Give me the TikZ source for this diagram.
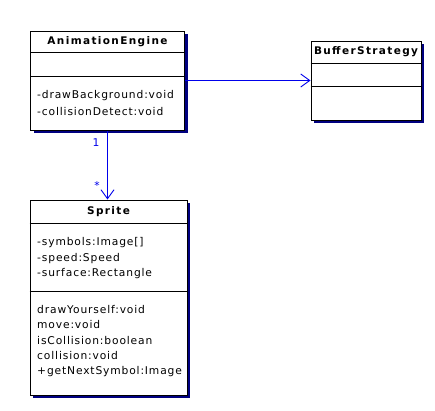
\documentclass[tikz,border=0pt]{standalone}
\usepackage{fontspec}
\newfontfamily\umlfont{DejaVu Sans}[LetterSpace=8]
\newfontfamily\umltitlefont{DejaVu Sans}[LetterSpace=13]
\usetikzlibrary{arrows.meta, shadows, positioning}
\definecolor{umlshadow}{RGB}{0,0,128}
\definecolor{umlline}{RGB}{0,0,235}

\begin{document}
\begin{tikzpicture}[
            x=1pt, y=-1pt,
            umlclass/.style={
                draw, fill=white, line width=1pt, inner sep=0pt,
                drop shadow={shadow xshift=3pt, shadow yshift=-3pt, fill=umlshadow, opacity=1}
            },
            classname/.style={font=\umltitlefont\bfseries\fontsize{10.5}{12}\selectfont, inner sep=0pt},
            member/.style={font=\umlfont\fontsize{10.7}{12}\selectfont, anchor=west, inner sep=0pt},
            assoc/.style={draw=umlline, line width=0.9pt},
            mult/.style={text=umlline, font=\umlfont\fontsize{10.7}{12}\selectfont, inner sep=0pt}
        ]
        \useasboundingbox (0,0) rectangle (435,410);

        % AnimationEngine
        \node[umlclass, minimum width=154pt, minimum height=99pt] (ae) at (107.5,80.5) {};
        \draw[line width=1pt] ([yshift=-22pt]ae.north west) -- ([yshift=-22pt]ae.north east);
        \draw[line width=1pt] ([yshift=-46pt]ae.north west) -- ([yshift=-46pt]ae.north east);
        \node[classname] (ae-name) at ([yshift=-11pt]ae.north) {AnimationEngine};
        \node[member] (ae-op1) at (37,96) {-drawBackground:void};
        \node[member] (ae-op2) at (37,111.5) {-collisionDetect:void};

        % BufferStrategy
        \node[umlclass, minimum width=110pt, minimum height=79pt] (bs) at (366,80.5) {};
        \draw[line width=1pt] ([yshift=-23pt]bs.north west) -- ([yshift=-23pt]bs.north east);
        \draw[line width=1pt] ([yshift=-46pt]bs.north west) -- ([yshift=-46pt]bs.north east);
        \node[classname] (bs-name) at ([yshift=-11.5pt]bs.north) {BufferStrategy};

        % Sprite
        \node[umlclass, minimum width=157pt, minimum height=195pt] (sprite) at (108.5,297.5) {};
        \draw[line width=1pt] ([yshift=-24pt]sprite.north west) -- ([yshift=-24pt]sprite.north east);
        \draw[line width=1pt] ([yshift=-92pt]sprite.north west) -- ([yshift=-92pt]sprite.north east);
        \node[classname] (sprite-name) at ([yshift=-12pt]sprite.north) {Sprite};
        \node[member] (sprite-at1) at (37,243) {-symbols:Image[]};
        \node[member] (sprite-at2) at (37,258.5) {-speed:Speed};
        \node[member] (sprite-at3) at (37,274) {-surface:Rectangle};
        \node[member] (sprite-op1) at (37,309.5) {drawYourself:void};
        \node[member] (sprite-op2) at (37,325) {move:void};
        \node[member] (sprite-op3) at (37,340.5) {isCollision:boolean};
        \node[member] (sprite-op4) at (37,356) {collision:void};
        \node[member] (sprite-op5) at (37,371.5) {+getNextSymbol:Image};

        % associations
        \draw[assoc, -{Straight Barb[length=9pt, width=13pt]}] (ae) -- (bs);
        \draw[assoc, -{Straight Barb[length=9pt, width=13pt]}] (ae.south) -- (ae.south |- sprite.north);
        \node[mult] (mult-ae) at (96,143) {1};
        \node[mult] (mult-sprite) at (97,186) {*};
    \end{tikzpicture}
\end{document}
